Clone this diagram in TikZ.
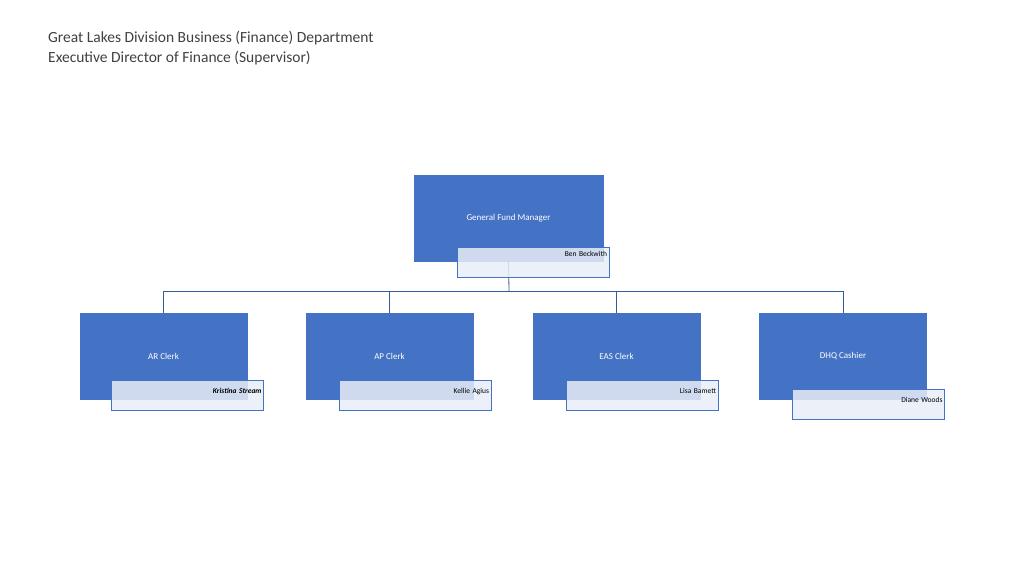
\documentclass[tikz,border=0pt]{standalone}
\usepackage{fontspec}
\setmainfont{Carlito}
\usetikzlibrary{positioning, backgrounds}
\definecolor{rolecolor}{RGB}{68,114,196}
\definecolor{namecolor}{RGB}{233,237,247}
\definecolor{titlecolor}{RGB}{64,64,64}
\tikzset{
  rolebox/.style={draw=rolecolor, fill=rolecolor, text=white, minimum width=167pt, minimum height=86pt, inner sep=0pt, font=\fontsize{9}{10}\selectfont},
  namebox/.style={draw=rolecolor, fill=namecolor, fill opacity=0.85, text opacity=1, minimum width=152pt, minimum height=30pt, inner sep=2pt, align=right, text width=148pt, font=\fontsize{7.5}{9}\selectfont},
  orgline/.style={draw=rolecolor!80!black, line width=0.8pt}
}
\begin{document}
\begin{tikzpicture}[x=1pt, y=-1pt]
    \useasboundingbox (0,0) rectangle (1024,576);
    % Titre
    \node[anchor=north west, align=left, text=titlecolor, font=\fontsize{15.5}{20}\selectfont, inner sep=0pt] (title) at (48,31)
      {Great Lakes Division Business (Finance) Department\\Executive Director of Finance (Supervisor)};

    % Manager
    \node[rolebox, minimum width=189pt] (gfm) at (508.5,218) {General Fund Manager};
    \node[namebox, text depth=18pt] (ben) at (533,262.5) {Ben Beckwith};

    % Clerks
    \node[rolebox] (ar) at (163.5,356) {AR Clerk};
    \node[rolebox] (ap) at (389.5,356) {AP Clerk};
    \node[rolebox] (eas) at (616.5,356) {EAS Clerk};
    \node[rolebox] (dhq) at (843,356) {DHQ Cashier};

    \node[namebox, text depth=8pt] (kristina) at (187.5,395) {\textbf{\textit{Kristina Stream}}};
    \node[namebox, text depth=8pt] (kellie) at (415,395) {Kellie Agius};
    \node[namebox, text depth=8pt] (lisa) at (642,395) {Lisa Bamett};
    \node[namebox, text depth=8pt] (diane) at (868.5,404) {Diane Woods};

    % Connecteurs
    \coordinate (bus) at (509,291);
    \begin{scope}[on background layer]
      \draw[orgline] (gfm.south) -- (bus);
      \foreach \c in {ar, ap, eas, dhq}
        \draw[orgline] (bus) -| (\c.north);
    \end{scope}
\end{tikzpicture}
\end{document}
